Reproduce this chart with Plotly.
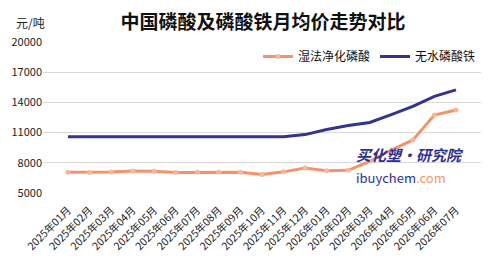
import plotly.graph_objects as go

months = ["2025年01月","2025年02月","2025年03月","2025年04月","2025年05月","2025年06月",
          "2025年07月","2025年08月","2025年09月","2025年10月","2025年11月","2025年12月",
          "2026年01月","2026年02月","2026年03月","2026年04月","2026年05月","2026年06月","2026年07月"]
wet_acid = [7050, 7030, 7080, 7180, 7170, 7030, 7060, 7060, 7060, 6850, 7100, 7480,
            7220, 7250, 8150, 9270, 10270, 12750, 13250]
iron_phosphate = [10600, 10600, 10600, 10600, 10600, 10600, 10600, 10600, 10600, 10600, 10600, 10800,
                  11300, 11700, 12000, 12780, 13600, 14600, 15250]
y_ticks = [5000, 8000, 11000, 14000, 17000, 20000]

FONT = "Noto Sans CJK SC"
fig = go.Figure()
fig.add_trace(go.Scatter(x=months, y=wet_acid, name="湿法净化磷酸", mode="lines+markers",
                         line=dict(color="#F4936B", width=3),
                         marker=dict(size=5, color="#F7B79A", line=dict(width=0))))
fig.add_trace(go.Scatter(x=months, y=iron_phosphate, name="无水磷酸铁", mode="lines",
                         line=dict(color="#35338F", width=3)))

fig.update_layout(
    width=500, height=264, margin=dict(l=43, r=19, t=42, b=71),
    paper_bgcolor="white", plot_bgcolor="white",
    font=dict(family=FONT, color="#222222", size=11),
    showlegend=True,
    legend=dict(orientation="h", x=1.0, xanchor="right", y=1.0, yanchor="top",
                font=dict(size=12, family=FONT, color="#111111"), bgcolor="rgba(0,0,0,0)",
                itemwidth=30, traceorder="normal"),
    title=dict(text="<b>中国磷酸及磷酸铁月均价走势对比</b>", x=0.526, xanchor="center",
               y=0.915, yanchor="middle", font=dict(family=FONT, size=19, color="#111111")),
    xaxis=dict(type="category", tickangle=-45, showgrid=False, showline=False,
               ticks="outside", ticklen=6, tickcolor="rgba(0,0,0,0)",
               tickfont=dict(size=10.5, family=FONT, color="#222222")),
    yaxis=dict(range=[5000, 20000], tickvals=y_ticks, tickformat="d", showgrid=True,
               gridcolor="#D9D9D9", gridwidth=1, zeroline=False, showline=False, ticks="",
               tickfont=dict(size=11, family=FONT, color="#222222")),
    annotations=[
        dict(text="元/吨", xref="paper", yref="paper", x=-0.067, y=1.06, xanchor="left",
             yanchor="bottom", showarrow=False, font=dict(size=12, family=FONT, color="#222222")),
        dict(text="<b><i>买化塑·研究院</i></b>", xref="paper", yref="paper", x=0.71, y=0.255,
             xanchor="left", yanchor="middle", showarrow=False,
             font=dict(size=15, family=FONT, color="#2E3192")),
        dict(text="<span style='color:#2E3192'>ibuychem</span><span style='color:#F4936B'>.com</span>",
             xref="paper", yref="paper", x=0.71, y=0.105, xanchor="left", yanchor="middle",
             showarrow=False, font=dict(size=13, family=FONT)),
    ],
)
fig.write_html("out.html")
